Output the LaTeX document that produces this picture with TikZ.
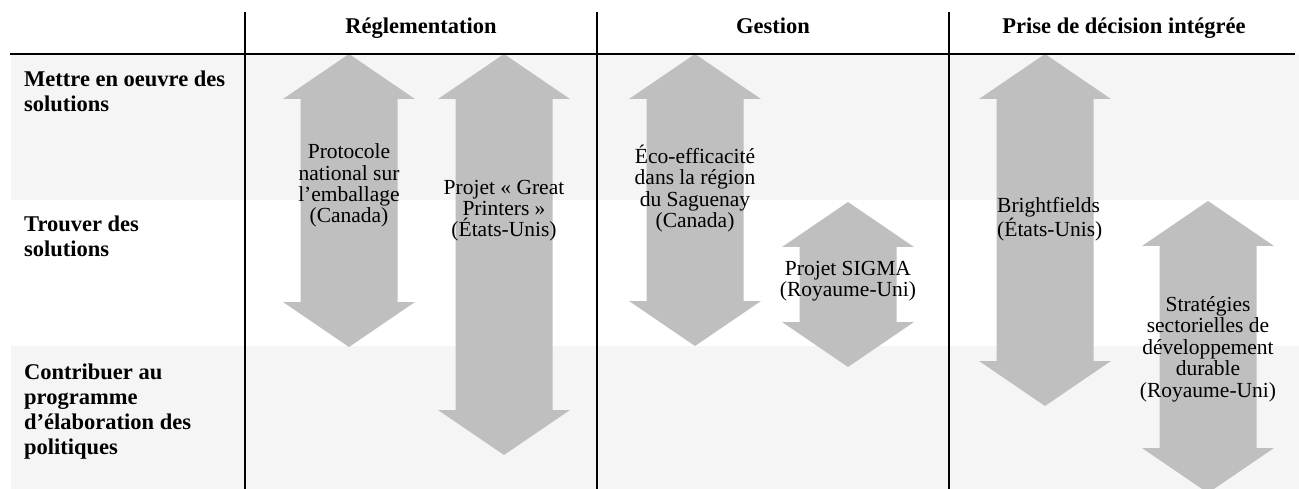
\documentclass[tikz,border=0pt]{standalone}
\usepackage{fontspec}
\setmainfont{Liberation Serif}
\usetikzlibrary{positioning}

\definecolor{bandgray}{RGB}{245,245,245}
\definecolor{arrowgray}{RGB}{191,191,191}

\tikzset{
  rowlabel/.style={anchor=base west, align=left, inner sep=0pt,
    font=\fontsize{22.5}{25}\selectfont\bfseries},
  colhead/.style={anchor=base, inner sep=0pt,
    font=\fontsize{22.5}{25}\selectfont\bfseries},
  arrowtext/.style={anchor=base, align=center, inner sep=0pt,
    font=\fontsize{21.5}{21.5}\selectfont},
}

% two-headed block arrow: centre x, top y, bottom y
\newcommand{\blockarrow}[3]{%
  \fill[arrowgray] (#1,#2) -- (#1+66,#2+45) -- (#1+48.5,#2+45) -- (#1+48.5,#3-45)
    -- (#1+66,#3-45) -- (#1,#3) -- (#1-66,#3-45) -- (#1-48.5,#3-45)
    -- (#1-48.5,#2+45) -- (#1-66,#2+45) -- cycle;}

\begin{document}
\begin{tikzpicture}[x=1pt, y=-1pt]
    \useasboundingbox (0,0) rectangle (1299,489);

    % shaded rows
    \fill[bandgray] (11,54) rectangle (1299,200);
    \fill[bandgray] (11,346) rectangle (1299,489);

    % arrows
    \blockarrow{349}{54}{347}
    \blockarrow{504}{54}{455}
    \blockarrow{695}{54}{346}
    \blockarrow{848}{202}{367}
    \blockarrow{1045}{54}{406}
    \blockarrow{1208}{201}{493}

    % grid lines
    \draw[line width=1.8pt] (10,54) -- (1295,54);
    \foreach \x in {245,597,949} {
        \draw[line width=1.2pt] (\x,12) -- (\x,489);
    }

    % column heads
    \node[colhead] (hdreg) at (421,34) {Réglementation};
    \node[colhead] (hdges) at (773,34) {Gestion};
    \node[colhead] (hdpri) at (1124,34) {Prise de décision intégrée};

    % row heads (base = last line)
    \node[rowlabel] (rowimpl) at (24,112) {Mettre en oeuvre des\\solutions};
    \node[rowlabel] (rowfind) at (24,257) {Trouver des\\solutions};
    \node[rowlabel] (rowpol) at (24,454) {Contribuer au\\programme\\d’élaboration des\\politiques};

    % arrow labels
    \node[arrowtext] (txtpack) at (349,223) {Protocole\\national sur\\l’emballage\\(Canada)};
    \node[arrowtext] (txtprint) at (504,237) {Projet «~Great\\Printers~»\\(États-Unis)};
    \node[arrowtext] (txteco) at (695,228) {Éco-efficacité\\dans la région\\du Saguenay\\(Canada)};
    \node[arrowtext] (txtsigma) at (848,297) {Projet SIGMA\\(Royaume-Uni)};
    \node[arrowtext, anchor=base west, align=left] (txtbright) at (997,237) {Brightfields\\(États-Unis)};
    \node[arrowtext] (txtstrat) at (1208,397) {Stratégies\\sectorielles de\\développement\\durable\\(Royaume-Uni)};
\end{tikzpicture}
\end{document}
